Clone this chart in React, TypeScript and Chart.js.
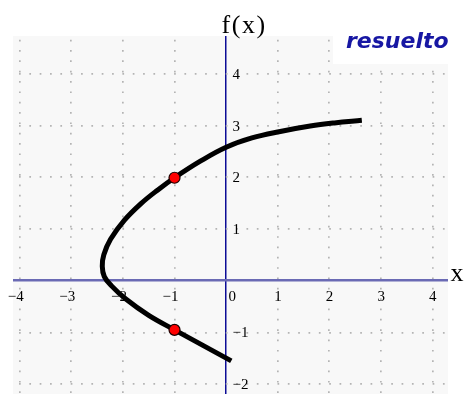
import React, { useEffect, useRef } from "react";
import { Chart, registerables } from "chart.js";

Chart.register(...registerables);

// Curve, from the lower end to the upper end
const CURVE_X = [0.1, -0.45, -1.0, -1.5, -1.95, -2.22, -2.36, -2.4, -2.37, -2.24, -1.97, -1.65, -1.33, -1.0, -0.5, 0.0, 0.5, 1.05, 1.63, 2.1, 2.63];
const CURVE_Y = [-1.55, -1.25, -0.95, -0.67, -0.35, -0.1, 0.08, 0.28, 0.5, 0.8, 1.17, 1.49, 1.75, 1.99, 2.31, 2.58, 2.76, 2.885, 2.99, 3.05, 3.1];

// Highlighted points
const POINT_X = [-1, -1];
const POINT_Y = [1.99, -0.95];

// Axes
const X_TICKS = [-4, -3, -2, -1, 0, 1, 2, 3, 4];
const Y_TICKS = [-2, -1, 0, 1, 2, 3, 4];
const X_LABELS = ["−4", "−3", "−2", "−1", "0", "1", "2", "3", "4"];
const Y_LABELS = ["−2", "−1", "", "1", "2", "3", "4"];
const X_RANGE = [-4.13, 4.3];
const Y_RANGE = [-2.19, 4.73];

const Y_AXIS_TITLE = "f(x)";
const X_AXIS_TITLE = "x";
const BADGE = "resuelto";

const DOT = 10.34;

const overlay = {
  id: "overlay",
  beforeDraw(chart: any) {
    const { ctx, chartArea } = chart;
    ctx.save();
    ctx.fillStyle = "#f8f8f8";
    ctx.fillRect(chartArea.left, chartArea.top, chartArea.right - chartArea.left, chartArea.bottom - chartArea.top);
    ctx.restore();
  },
  afterDraw(chart: any) {
    const { ctx } = chart;
    const xs = chart.scales.x;
    const ys = chart.scales.y;
    const x0 = xs.getPixelForValue(0);
    const y0 = ys.getPixelForValue(0);
    ctx.save();
    // badge area
    ctx.fillStyle = "#ffffff";
    ctx.fillRect(333, 8, 131, 56);
    ctx.fillStyle = "#000";
    ctx.font = "15px 'Liberation Serif'";
    ctx.textBaseline = "alphabetic";
    ctx.textAlign = "right";
    X_TICKS.forEach((v, i) => {
      const px = xs.getPixelForValue(v) + (v === 0 ? 10 : 4);
      ctx.fillText(X_LABELS[i], px, y0 + 20);
    });
    ctx.textAlign = "left";
    Y_TICKS.forEach((v, i) => {
      if (!Y_LABELS[i]) return;
      ctx.fillText(Y_LABELS[i], x0 + 6.5, ys.getPixelForValue(v) + 5);
    });
    ctx.font = "26px 'Liberation Serif'";
    (ctx as any).letterSpacing = "1.5px";
    ctx.fillText(Y_AXIS_TITLE, x0 - 4.5, 33.3);
    (ctx as any).letterSpacing = "0px";
    ctx.fillText(X_AXIS_TITLE, 450.5, y0);
    ctx.font = "italic bold 22px 'DejaVu Sans'";
    ctx.fillStyle = "#1717a3";
    ctx.fillText(BADGE, 346, 48.3);
    ctx.restore();
  },
};

export default function App() {
  const ref = useRef<HTMLCanvasElement>(null);
  useEffect(() => {
    document.body.style.margin = "0";
    const curve = CURVE_X.map((x, i) => ({ x, y: CURVE_Y[i] }));
    const pts = POINT_X.map((x, i) => ({ x, y: POINT_Y[i] }));
    const chart = new Chart(ref.current!, {
      type: "scatter",
      data: {
        datasets: [
          {
            data: pts,
            showLine: false,
            pointRadius: 5.5,
            pointBackgroundColor: "#ff0000",
            pointBorderColor: "#1a0000",
            pointBorderWidth: 1.2,
          } as any,
          {
            data: curve,
            showLine: true,
            borderColor: "#000000",
            borderWidth: 5,
            borderCapStyle: "butt",
            pointRadius: 0,
            tension: 0.4,
            fill: false,
          } as any,
        ],
      },
      options: {
        animation: false,
        responsive: false,
        devicePixelRatio: 1,
        layout: { autoPadding: false, padding: { left: 13, right: 16, top: 36, bottom: 0 } },
        plugins: { legend: { display: false }, tooltip: { enabled: false } },
        scales: {
          x: {
            type: "linear",
            min: X_RANGE[0],
            max: X_RANGE[1],
            afterBuildTicks: (s: any) => {
              s.ticks = X_TICKS.map((v) => ({ value: v }));
            },
            afterFit: (s: any) => {
              s.height = 0;
            },
            ticks: { display: false },
            border: {
              display: false,
              dash: (c: any) => (c.tick && c.tick.value === 0 ? [] : [1.7, DOT - 1.7]),
              dashOffset: 6.66,
            },
            grid: {
              drawTicks: false,
              color: (c: any) => (c.tick && c.tick.value === 0 ? "#0c0c96" : "#b4b4b4"),
              lineWidth: (c: any) => (c.tick && c.tick.value === 0 ? 1.5 : 1.7),
            },
          },
          y: {
            type: "linear",
            min: Y_RANGE[0],
            max: Y_RANGE[1],
            afterBuildTicks: (s: any) => {
              s.ticks = Y_TICKS.map((v) => ({ value: v }));
            },
            afterFit: (s: any) => {
              s.width = 0;
            },
            ticks: { display: false },
            border: {
              display: false,
              dash: (c: any) => (c.tick && c.tick.value === 0 ? [] : [1.7, DOT - 1.7]),
              dashOffset: 4.34,
            },
            grid: {
              drawTicks: false,
              color: (c: any) => (c.tick && c.tick.value === 0 ? "#6a6ab4" : "#b4b4b4"),
              lineWidth: (c: any) => (c.tick && c.tick.value === 0 ? 2.5 : 1.7),
            },
          },
        },
      },
      plugins: [overlay],
    });
    return () => chart.destroy();
  }, []);
  return (
    <div style={{ position: "absolute", left: 0, top: 0, width: 464, height: 394 }}>
      <canvas ref={ref} width={464} height={394} />
    </div>
  );
}
